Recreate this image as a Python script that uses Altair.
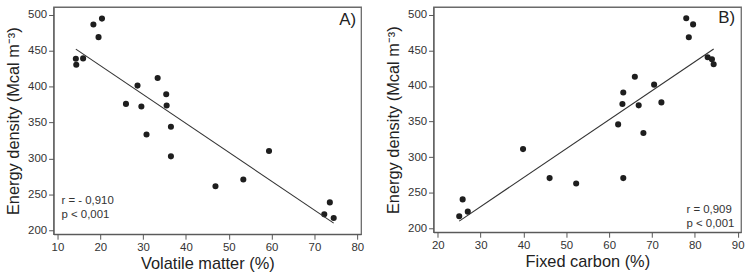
import altair as alt
import pandas as pd

# Panel A: volatile matter (%) vs energy density
vm = [14.3, 14.4, 16.0, 18.4, 19.6, 20.4, 26.0, 28.7, 29.6, 30.8, 33.4, 35.4,
      35.5, 36.5, 36.5, 46.9, 53.4, 59.4, 72.3, 73.6, 74.5]
ed_a = [438.7, 430.4, 439.2, 486.2, 468.7, 494.5, 376.0, 401.4, 372.4, 333.6, 412.0, 389.4,
        373.7, 344.2, 303.2, 261.7, 271.0, 310.6, 222.6, 239.2, 217.5]

# Panel B: fixed carbon (%) vs energy density
fc = [25.0, 25.8, 27.0, 39.9, 46.1, 52.3, 66.0, 70.5, 63.3, 63.1, 66.9, 72.2,
      62.1, 68.0, 63.3, 78.0, 79.6, 78.6, 83.0, 84.0, 84.4]
ed_b = [217.5, 241.0, 223.9, 311.5, 270.9, 263.3, 412.9, 401.8, 390.8, 374.6, 372.8, 376.9,
        346.1, 334.1, 270.9, 494.9, 486.2, 468.2, 440.1, 437.4, 430.4]

y_ticks = [200, 250, 300, 350, 400, 450, 500]
xa_ticks = [10, 20, 30, 40, 50, 60, 70, 80]
xb_ticks = [20, 30, 40, 50, 60, 70, 80, 90]

panel_a_label = "A)"
panel_b_label = "B)"
stats_a = ["r = - 0,910", "p < 0,001"]
stats_b = ["r = 0,909", "p < 0,001"]

y_title = "Energy density (Mcal m\u207b\u00b3)"

df_a = pd.DataFrame({"x": vm, "y": ed_a})
df_b = pd.DataFrame({"x": fc, "y": ed_b})

FONT = "Liberation Sans"
PT = "#1e1e1e"


def make_axis(vals, pad):
    return alt.Axis(values=vals, labelOverlap=False, labelFont=FONT, labelFontSize=11.5,
                    labelColor="#333333", titleFont=FONT, titleFontSize=16.5,
                    titleFontWeight="normal", titleColor="#222222", titlePadding=pad,
                    gridOpacity=0, tickColor="#555555", domainColor="#555555")


def panel(df, xdom, xticks, xtitle, w, h, label, label_x, label_y, stats, sx, sy):
    xs = alt.Scale(domain=xdom, nice=False, zero=False)
    ys = alt.Scale(domain=[195, 510.5], nice=False, zero=False)
    xax = make_axis(xticks, 3)
    yax = make_axis(y_ticks, 6)
    base = alt.Chart(df)
    pts = base.mark_circle(size=38, color=PT, opacity=1).encode(
        x=alt.X("x:Q", scale=xs, title=xtitle, axis=xax),
        y=alt.Y("y:Q", scale=ys, title=y_title, axis=yax),
    )
    line = base.transform_regression("x", "y").mark_line(
        color="#333333", strokeWidth=1.1
    ).encode(x=alt.X("x:Q", scale=xs, title=xtitle, axis=xax),
             y=alt.Y("y:Q", scale=ys, title=y_title, axis=yax))
    layers = [pts, line]
    layers.append(alt.Chart(pd.DataFrame({"t": [label]})).mark_text(
        font=FONT, fontSize=17, align="right", baseline="middle", color="#222222"
    ).encode(text="t:N", x=alt.value(label_x), y=alt.value(label_y)))
    for k, s in enumerate(stats):
        layers.append(alt.Chart(pd.DataFrame({"t": [s]})).mark_text(
            font=FONT, fontSize=11.5, align="left", baseline="middle", color="#333333"
        ).encode(text="t:N", x=alt.value(sx), y=alt.value(sy + 14 * k)))
    return alt.layer(*layers).properties(width=w, height=h)


left = panel(df_a, [9.1, 80.9], xa_ticks, "Volatile matter (%)", 310, 229,
             panel_a_label, 305, 13, stats_a, 8, 196)
right = panel(df_b, [19.0, 90.8], xb_ticks, "Fixed carbon (%)", 310, 227,
              panel_b_label, 304, 11, stats_b, 255, 205)

chart = alt.hconcat(left, right, spacing=20).configure_view(
    stroke="#6a6a6a", strokeWidth=1.3
)

chart.save("out.html", embed_options={"renderer": "svg", "actions": False})
